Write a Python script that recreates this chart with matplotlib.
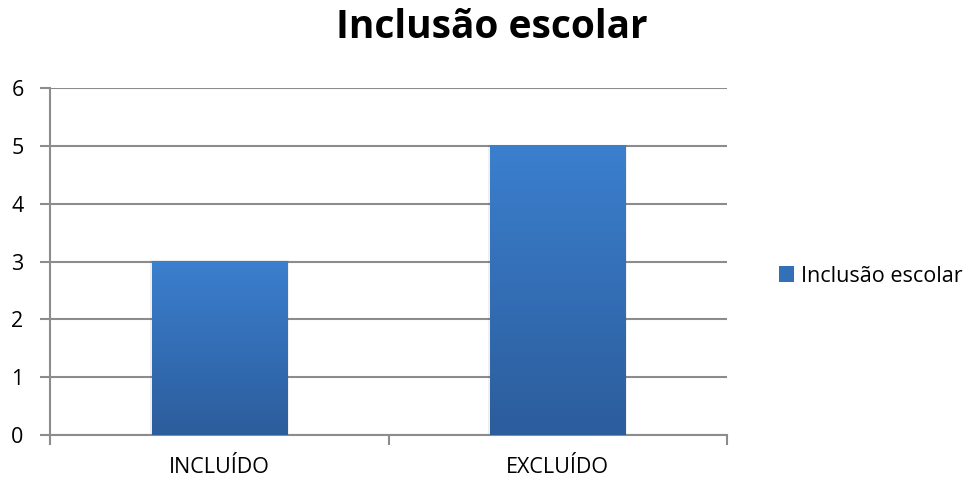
import numpy as np
import matplotlib.pyplot as plt
from matplotlib.colors import LinearSegmentedColormap
from matplotlib.patches import Patch

categories = ['INCLUÍDO', 'EXCLUÍDO']
values = [3, 5]
series_name = 'Inclusão escolar'

plt.rcParams['font.family'] = ['Open Sans', 'DejaVu Sans']

fig = plt.figure(figsize=(9.65, 4.83), dpi=100)
ax = fig.add_axes([50 / 965, 1 - 435 / 483, 677 / 965, 347 / 483])

grid_col = '#8c8c8c'
top_col = '#3b7fce'
bot_col = '#2c5d9c'
cmap = LinearSegmentedColormap.from_list('bar', [bot_col, top_col])

x = np.arange(len(categories))
width = 0.4
bars = ax.bar(x, values, width=width, color='none', zorder=3)
grad = np.linspace(0, 1, 256).reshape(-1, 1)
for b in bars:
    x0, y0 = b.get_x(), b.get_y()
    w, h = b.get_width(), b.get_height()
    # faint shadow
    ax.add_patch(plt.Rectangle((x0 - 0.006, y0), w + 0.012, h + 0.02,
                               color='#000000', alpha=0.06, zorder=2.5, lw=0))
    ax.imshow(grad, cmap=cmap, origin='lower', aspect='auto',
              extent=[x0, x0 + w, y0, y0 + h], zorder=3)

ax.set_xlim(-0.5, len(categories) - 0.5)
ax.set_ylim(0, 6)
ax.set_yticks(range(0, 7))
ax.yaxis.grid(True, color=grid_col, lw=1.5)
ax.set_axisbelow(True)

ax.set_xticks(x)
ax.set_xticklabels(categories)
ax.set_xticks(np.arange(-0.5, len(categories), 1.0), minor=True)
ax.tick_params(axis='x', which='major', length=0, pad=16, labelsize=15.5)
ax.tick_params(axis='x', which='minor', length=7, width=1.5, color=grid_col)
ax.tick_params(axis='y', length=7, width=1.5, color=grid_col, labelsize=15.5, pad=12)

for s in ['top', 'right']:
    ax.spines[s].set_visible(False)
for s in ['left', 'bottom']:
    ax.spines[s].set_color(grid_col)
    ax.spines[s].set_linewidth(1.5)

fig.text(492 / 965, 1 - 28 / 483, series_name, ha='center', va='center',
         fontsize=28, fontweight='bold')

handle = Patch(facecolor='#3370b8', edgecolor='none')
fig.legend([handle], [series_name], loc='center left',
           bbox_to_anchor=(760 / 965, 1 - 276 / 483), frameon=False,
           fontsize=15.5, handlelength=0.7, handleheight=0.7, handletextpad=0.3)

fig.savefig('out.png', dpi=100)
